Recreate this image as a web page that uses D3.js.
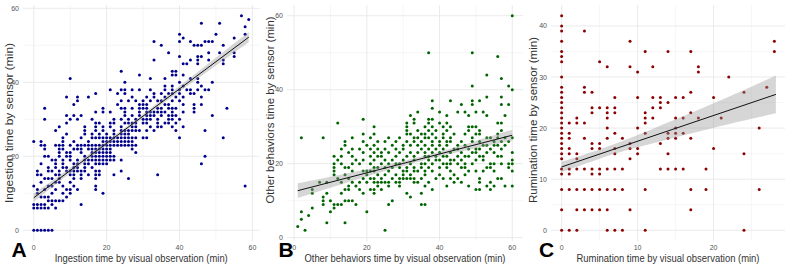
<!DOCTYPE html>
<html><head><meta charset="utf-8">
<script src="https://cdn.jsdelivr.net/npm/d3@7"></script>
<style>body{margin:0;background:#fff}svg{display:block}text{font-family:"Liberation Sans",Arial,sans-serif}</style>
</head><body>
<svg id="chart" width="792" height="270"></svg>
<script>
// ---------- DATA ----------
// Panel A: rows of [sensor minutes, [visual minutes...]]
const ingestionRows = [
 [0,[0,1,2,3,4,5]],[6,[0,1,2,3,4,6]],[7,[0,1,2,3,5,13]],[8,[4,5,6,7,8]],[9,[2,3,4,9]],
 [10,[1,5,8,10,19]],[11,[1,3,6,9,10,12,17]],[12,[0,4,5,8,11,17,58]],[13,[2,6,7,10]],
 [14,[3,4,5,7,11,13,17,26]],[15,[1,2,6,7,10,11,13,15,17,18,22,34]],
 [16,[1,4,5,7,9,10,11,12,13,14,17,18,24]],[17,[4,6,8,9,11,12,14,16]],
 [18,[2,6,8,11,12,14,15,17,18,19,20,46]],[19,[5,6,8,10,12,14,15,16,17,18,19,20,21,22,24]],
 [20,[3,4,7,9,10,14,16,17,18,19,20,21,22,47]],[21,[7,9,10,13,16,17,18,19,20,21,28]],
 [22,[3,7,8,11,12,13,15,16,17,18,19,20,21,27]],
 [23,[2,3,6,7,8,10,12,13,14,15,16,17,18,19,20,21,22,23,24,25,26,27,28]],
 [24,[0,2,8,11,15,19,20,21,22,23,24,25,26,27]],
 [25,[8,13,16,17,18,19,20,21,22,23,24,25,26,27,28,30,31,40,52]],
 [26,[9,14,16,18,20,22,24,25,26]],[27,[6,14,17,19,22,24,25,26,27,28,29,31,33,39,47]],
 [28,[7,14,17,19,21,24,27,28,32,34,35,38,41]],[29,[9,17,18,21,22,25,26,27,28,30,31,34,36,37,39]],
 [30,[3,10,12,16,22,24,26,28,30,31,32,34,37,38,40]],[31,[9,11,13,25,27,29,31,32,33,35,37,38,39,49]],
 [32,[17,19,21,25,29,31,32,33,34,35,36,38,41,44]],[33,[3,19,24,25,27,29,30,31,34,35,37,38,39,44,53]],
 [34,[11,23,29,30,31,36,37,41,44,46]],[35,[12,24,26,28,30,32,34,35,38,40]],
 [36,[9,12,15,27,31,33,36,39,41,46]],[37,[17,23,25,33,35,37,38,40,43,44]],
 [38,[21,24,25,27,29,32,36,38,40,42,43,45,47,48]],[39,[36,38,41,46]],[40,[25,40,45,49]],
 [41,[10,32,36,43,45]],[42,[29,38,39,41]],[43,[24,38,39]],[45,[41,42,45,52]],
 [46,[33,43,45,48,52]],[47,[40,45,46,55]],[48,[37,48,51,55]],[50,[35,44,45,46,52]],
 [51,[33,40,43,47,48,49]],[52,[41,55]],[53,[40,50,58]],[55,[58]],[56,[46,51]],[57,[59]],[58,[57]]
];
// Panel B
const otherRows = [
 [2,[3,25]],[3,[1]],[4,[9,14]],[5,[2]],[6,[4]],[7,[2,10,20]],[8,[5,11]],
 [9,[8,11,12,13,17,26,35,36]],[10,[8,10,14,15,16,27]],[11,[8,32]],[12,[5,9,13,19,22,31,35]],
 [13,[5,14,15,18,21,22,24,38,50,51,54]],[14,[15,17,23,26,29,36,42,48,53,55,58,60]],
 [15,[7,9,13,16,18,20,22,23,24,25,26,28,29,33,34,37,44,46,51,54]],
 [16,[12,15,19,21,22,24,27,29,30,31,32,33,35,39,41,43,45,51,56,57]],
 [17,[11,14,20,23,25,28,30,32,36,40,44,47]],
 [18,[11,16,19,20,21,22,26,30,31,33,34,36,38,43,48,50,52,55,60]],
 [19,[11,14,15,22,23,25,27,29,31,33,35,37,40,42,46,47,53,54,59]],
 [20,[11,13,16,18,21,24,26,28,29,32,35,36,38,41,42,43,45,47,49,54,55,57,59,60]],
 [21,[12,17,19,22,25,27,30,33,37,39,40,43,44,46,50,52,60]],
 [22,[11,13,16,21,23,24,28,31,33,36,37,39,41,42,45,47,48,51,52,56,57]],
 [23,[15,19,22,24,26,29,32,34,36,38,40,43,46,49,50,53,55,60]],
 [24,[13,16,18,21,23,25,28,30,35,37,39,41,44,45,48,50,51,54,57]],
 [25,[14,20,22,27,30,32,34,36,38,40,42,45,47,52,53,55,56,58]],
 [26,[14,19,23,25,28,31,33,35,38,40,42,43,46,49,51,55,57,59]],
 [27,[2,8,16,21,26,29,33,34,36,37,39,41,43,49,53,54,56,58,60]],
 [28,[19,22,31,32,35,36,38,41,44,47,50,51,56]],[29,[31,34,37,39,42,48,51,57]],
 [30,[22,31,36,38,41,43,48,49,50]],[31,[12,31,33,37,40,42,56,57]],[32,[19,33,37,38]],
 [33,[32,42,48,53,58]],[34,[34,40,45,47,50,52]],[35,[38]],[36,[46,49,57,59]],
 [37,[38,43,49,51]],[38,[53,57]],[40,[60]],[41,[49,59]],[43,[57]],[44,[53]],
 [49,[56]],[50,[37,49]],[60,[60]]
];
// Panel C: columns of [visual minutes, [sensor minutes...]]
const ruminationCols = [
 [0,[42,40,39,37,35,34,33,30,28,27,26,25,24,23,22,21,20,19,18,17,16,15,14,12,11,8,4,0]],
 [1,[21,19,18,16,15,12,11,8,0]],[2,[22,21,15,14,12,8,4,0]],[3,[39,28,27,21,18,12,8,4]],
 [4,[27,24,23,17,16,12,11,8,4]],[5,[33,24,17,16,12,11,8,4]],[6,[32,24,23,22,20,18,12,8,4,0]],
 [7,[26,24,23,19,16,15,12,8,0]],[8,[18,12,8,0]],[9,[37,32,17,16,14,4]],[10,[31,26,20,16,15]],
 [11,[35,23,22,21,19,8,0]],[12,[32,26,24,22]],[13,[26,25,24,17,12]],[14,[35,25,19,18,15,12]],
 [15,[26,22,20,19,18,12]],[16,[26,22,19,12]],[17,[35,27,23,18,8,4]],[18,[32,31,22]],
 [19,[12,8]],[20,[26,16]],[21,[22]],[22,[30]],[24,[27,15,0]],[26,[20,8]],[27,[28]],[28,[37,35]]
];
// Fitted lines: x-ends and y-ends; CI half widths at x positions
const fitAx = [0, 59],  fitAy = [8.8, 52.2];
const bandAx = [0, 10, 25, 40, 59], bandAh = [1.1, 0.75, 0.5, 0.75, 1.4];
const fitBx = [1, 60],  fitBy = [12.7, 27.7];
const bandBx = [1, 15, 35, 50, 60], bandBh = [2.0, 1.2, 0.6, 1.0, 1.5];
const fitCx = [0, 28.2], fitCy = [12.4, 26.6];
const bandCx = [0, 5, 10, 20, 28.2], bandCh = [1.0, 0.9, 1.2, 2.4, 3.7];
// Tick labels
const ticksAx = [0,20,40,60], ticksAy = [0,20,40,60];
const ticksBx = [0,20,40,60], ticksBy = [0,20,40,60];
const ticksCx = [0,10,20],    ticksCy = [0,10,20,30,40];
const titlesX = ["Ingestion time by visual observation (min)","Other behaviors time by visual observation (min)","Rumination time by visual observation (min)"];
const titlesY = ["Ingestion time by sensor (min)","Other behaviors time by sensor (min)","Rumination time by sensor (min)"];
const letters = ["A","B","C"];

// ---------- BUILD ----------
const rowsToPts = rows => rows.flatMap(([y, xs]) => xs.map(x => ({x, y})));
const colsToPts = cols => cols.flatMap(([x, ys]) => ys.map(y => ({x, y})));

const panels = [
 {pts: rowsToPts(ingestionRows), color:"#00008B", fx:fitAx, fy:fitAy, bx:bandAx, bh:bandAh, tx:ticksAx, ty:ticksAy,
  xr:[23,259.5], minorX:10, minorY:10, xt:titlesX[0], yt:titlesY[0], L:letters[0],
  layout:{xtW:173, ytW:160, ytX:9, ytY:123, lx:11.5}},
 {pts: rowsToPts(otherRows), color:"#006400", fx:fitBx, fy:fitBy, bx:bandBx, bh:bandBh, tx:ticksBx, ty:ticksBy,
  xr:[287,523], minorX:10, minorY:10, xt:titlesX[1], yt:titlesY[1], L:letters[1],
  layout:{xtW:201, ytW:187, ytX:270, ytY:110, lx:278.5}},
 {pts: colsToPts(ruminationCols), color:"#8B0000", fx:fitCx, fy:fitCy, bx:bandCx, bh:bandCh, tx:ticksCx, ty:ticksCy,
  xr:[551,785], minorX:5, minorY:5, xt:titlesX[2], yt:titlesY[2], L:letters[2],
  layout:{xtW:183, ytW:166, ytX:533, ytY:120, lx:539}}
];

const svg = d3.select("#chart");
const yRange = [241, 5];

function expand(ext){ const d=(ext[1]-ext[0])*0.05; return [ext[0]-d, ext[1]+d]; }

panels.forEach(p => {
  const x = d3.scaleLinear().domain(expand(d3.extent(p.pts, d=>d.x))).range(p.xr);
  const y = d3.scaleLinear().domain(expand(d3.extent(p.pts, d=>d.y))).range(yRange);
  const g = svg.append("g");
  const [x0,x1] = x.domain(), [y0,y1] = y.domain();
  // minor grid
  const minX = d3.range(Math.ceil(x0/p.minorX)*p.minorX, x1, p.minorX).filter(v=>!p.tx.includes(v));
  const minY = d3.range(Math.ceil(y0/p.minorY)*p.minorY, y1, p.minorY).filter(v=>!p.ty.includes(v));
  g.selectAll(".mx").data(minX).join("line").attr("x1",d=>x(d)).attr("x2",d=>x(d)).attr("y1",yRange[0]).attr("y2",yRange[1]).attr("stroke","#f0f0f0").attr("stroke-width",0.6);
  g.selectAll(".my").data(minY).join("line").attr("y1",d=>y(d)).attr("y2",d=>y(d)).attr("x1",p.xr[0]).attr("x2",p.xr[1]).attr("stroke","#f0f0f0").attr("stroke-width",0.6);
  g.selectAll(".Mx").data(p.tx).join("line").attr("x1",d=>x(d)).attr("x2",d=>x(d)).attr("y1",yRange[0]).attr("y2",yRange[1]).attr("stroke","#e8e8e8").attr("stroke-width",0.9);
  g.selectAll(".My").data(p.ty).join("line").attr("y1",d=>y(d)).attr("y2",d=>y(d)).attr("x1",p.xr[0]).attr("x2",p.xr[1]).attr("stroke","#e8e8e8").attr("stroke-width",0.9);
  // points
  g.selectAll("circle").data(p.pts).join("circle").attr("cx",d=>x(d.x)).attr("cy",d=>y(d.y)).attr("r",1.5).attr("fill",p.color);
  // fit
  const fitAt = v => p.fy[0] + (p.fy[1]-p.fy[0])*(v-p.fx[0])/(p.fx[1]-p.fx[0]);
  const band = p.bx.map((v,i)=>({x:v, lo:fitAt(v)-p.bh[i], hi:fitAt(v)+p.bh[i]}));
  g.append("path").datum(band).attr("d", d3.area().x(d=>x(d.x)).y0(d=>y(d.lo)).y1(d=>y(d.hi)).curve(d3.curveNatural))
    .attr("fill","#999").attr("fill-opacity",0.4);
  g.append("path").datum(p.fx.map((v,i)=>({x:v,y:p.fy[i]}))).attr("d", d3.line().x(d=>x(d.x)).y(d=>y(d.y)))
    .attr("stroke","#111").attr("stroke-width",1).attr("fill","none");
  // tick labels
  g.selectAll(".tx").data(p.tx).join("text").attr("x",d=>x(d)).attr("y",250.2).attr("text-anchor","middle")
    .attr("font-size",7).attr("fill","#555").text(d=>d);
  g.selectAll(".ty").data(p.ty).join("text").attr("x",p.xr[0]-4).attr("y",d=>y(d)+2.5).attr("text-anchor","end")
    .attr("font-size",7).attr("fill","#555").text(d=>d);
  // titles
  const cx = (p.xr[0]+p.xr[1])/2;
  g.append("text").attr("x",cx).attr("y",261.5).attr("text-anchor","middle").attr("font-size",10.5).attr("fill","#333")
    .attr("textLength",p.layout.xtW).attr("lengthAdjust","spacingAndGlyphs").text(p.xt);
  g.append("text").attr("transform",`translate(${p.layout.ytX+3.5},${p.layout.ytY}) rotate(-90)`).attr("text-anchor","middle")
    .attr("font-size",10.5).attr("fill","#333").attr("textLength",p.layout.ytW).attr("lengthAdjust","spacingAndGlyphs").text(p.yt);
  g.append("text").attr("x",p.layout.lx).attr("y",256.7).attr("font-size",21).attr("font-weight","bold").attr("fill","#000").text(p.L);
});
</script>
</body></html>
